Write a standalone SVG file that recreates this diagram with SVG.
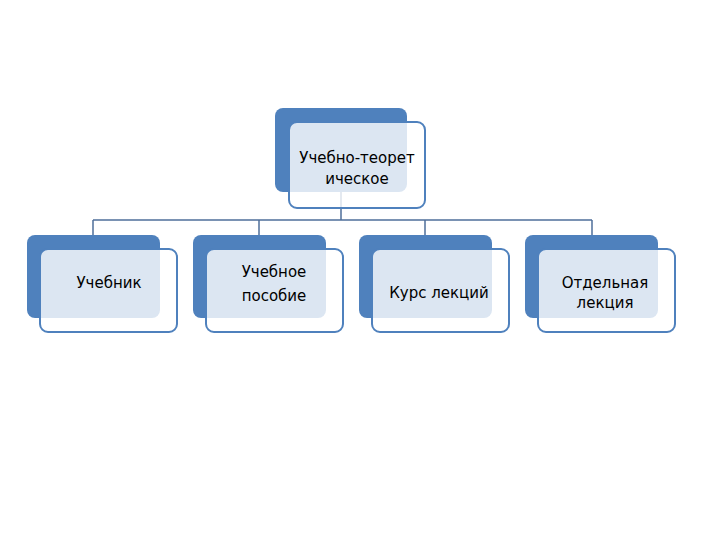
<svg xmlns="http://www.w3.org/2000/svg" width="720" height="540" viewBox="0 0 720 540">
<style>
.back{fill:#4f81bd;}
.front{fill:#ffffff;fill-opacity:0.8;stroke:#4f81bd;stroke-width:2;}
.lbl{font-family:"DejaVu Sans",sans-serif;font-size:15px;fill:#000;text-anchor:middle;}
.conn{fill:none;stroke:#4f6f9a;stroke-width:1.5;}
</style>
<rect width="720" height="540" fill="#ffffff"/>
<g id="connectors">
<path class="conn" d="M341,192 V220 M93,220 H592 M93,220 V235 M259,220 V235 M425,220 V235 M592,220 V235"/>
</g>
<g id="top">
<rect class="back" x="275" y="108" width="132" height="84" rx="8"/>
<rect class="front" x="289" y="122" width="136" height="86" rx="8"/>
<text class="lbl" x="357" y="163">Учебно-теорет</text>
<text class="lbl" x="357" y="184">ическое</text>
</g>
<g id="n1">
<rect class="back" x="27" y="235" width="133" height="83" rx="8"/>
<rect class="front" x="40" y="249" width="137" height="83" rx="8"/>
<text class="lbl" x="109" y="288">Учебник</text>
</g>
<g id="n2">
<rect class="back" x="193" y="235" width="133" height="83" rx="8"/>
<rect class="front" x="206" y="249" width="137" height="83" rx="8"/>
<text class="lbl" x="274" y="277">Учебное</text>
<text class="lbl" x="274" y="301">пособие</text>
</g>
<g id="n3">
<rect class="back" x="359" y="235" width="133" height="83" rx="8"/>
<rect class="front" x="372" y="249" width="137" height="83" rx="8"/>
<text class="lbl" x="439" y="298">Курс лекций</text>
</g>
<g id="n4">
<rect class="back" x="525" y="235" width="133" height="83" rx="8"/>
<rect class="front" x="538" y="249" width="137" height="83" rx="8"/>
<text class="lbl" x="605" y="288">Отдельная</text>
<text class="lbl" x="605" y="308">лекция</text>
</g>
</svg>
